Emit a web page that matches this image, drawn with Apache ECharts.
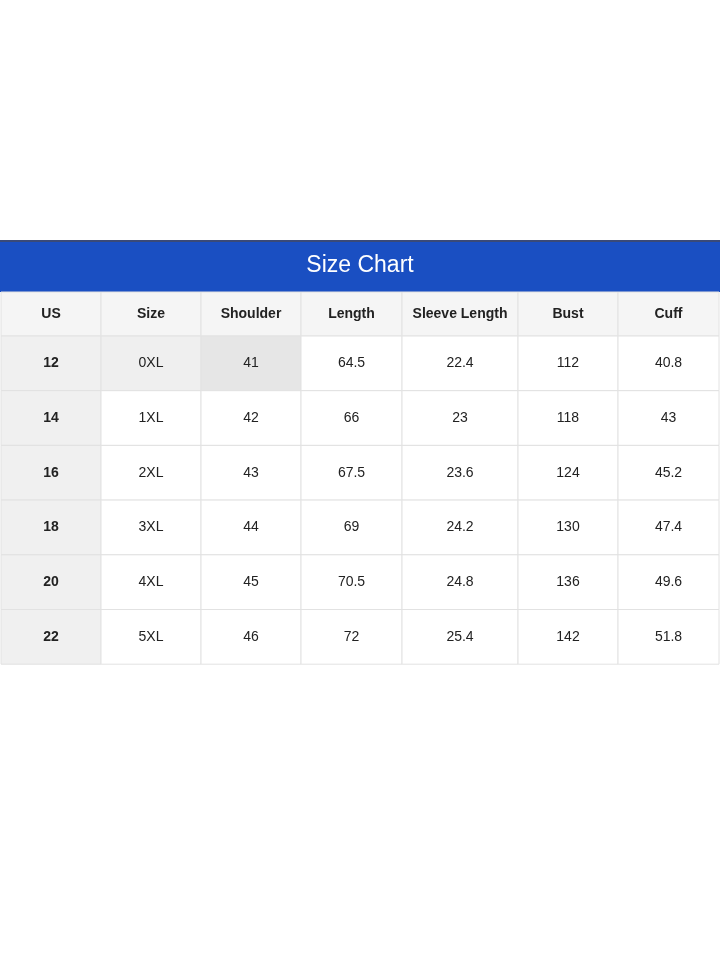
<!DOCTYPE html>
<html><head><meta charset="utf-8">
<script src="https://cdn.jsdelivr.net/npm/echarts@6/dist/echarts.min.js"></script>
<style>html,body{margin:0;background:#fff}#c{width:720px;height:959px}</style>
</head><body><div id="c"></div>
<script>
var title = 'Size Chart';
var headers = ['US', 'Size', 'Shoulder', 'Length', 'Sleeve Length', 'Bust', 'Cuff'];
var us = ['12', '14', '16', '18', '20', '22'];
var sizes = ['0XL', '1XL', '2XL', '3XL', '4XL', '5XL'];
var shoulder = [41, 42, 43, 44, 45, 46];
var length = [64.5, 66, 67.5, 69, 70.5, 72];
var sleeve = [22.4, 23, 23.6, 24.2, 24.8, 25.4];
var bust = [112, 118, 124, 130, 136, 142];
var cuff = [40.8, 43, 45.2, 47.4, 49.6, 51.8];

// layout (pixels in the 720x959 frame)
var colEdges = [1, 101, 201, 301, 402, 518, 618, 719];
var bandTop = 240, headTop = 292, headH = 44, rowH = 54.7;

var columns = [us, sizes, shoulder, length, sleeve, bust, cuff];
var cells = [];
headers.forEach(function (h, c) { cells.push([c, -1, h]); });
for (var r = 0; r < us.length; r++) {
  for (var c = 0; c < columns.length; c++) cells.push([c, r, String(columns[c][r])]);
}

function fillOf(c, r) {
  if (r < 0) return '#f5f5f5';
  if (c === 0) return '#f0f0f0';
  if (r === 0 && c === 1) return '#efefef';
  if (r === 0 && c === 2) return '#e6e6e6';
  return '#ffffff';
}

var chart = echarts.init(document.getElementById('c'));
chart.setOption({
  animation: false,
  grid: { left: 0, right: 0, top: 0, bottom: 0 },
  xAxis: { type: 'value', min: 0, max: 720, show: false },
  yAxis: { type: 'value', min: 0, max: 959, inverse: true, show: false },
  series: [{
    type: 'custom',
    data: [[0]],
    renderItem: function (params, api) {
      var a = api.coord([0, bandTop]), b = api.coord([720, headTop]);
      return { type: 'group', children: [
        { type: 'rect', shape: { x: a[0], y: a[1], width: b[0] - a[0], height: b[1] - a[1] },
          style: { fill: '#1a4fc2' } },
        { type: 'rect', shape: { x: a[0], y: a[1], width: b[0] - a[0], height: 2 },
          style: { fill: '#3a4a78' } },
        { type: 'text', style: { x: (a[0] + b[0]) / 2, y: (a[1] + b[1]) / 2, text: title,
          fill: '#fff', font: '23px "Liberation Sans", Arial', align: 'center', verticalAlign: 'middle' } }
      ] };
    }
  }, {
    type: 'custom',
    data: cells,
    renderItem: function (params, api) {
      var c = api.value(0), r = api.value(1), txt = cells[params.dataIndex][2];
      var y0 = r < 0 ? headTop : headTop + headH + r * rowH;
      var y1 = r < 0 ? headTop + headH : y0 + rowH;
      var p0 = api.coord([colEdges[c], y0]), p1 = api.coord([colEdges[c + 1], y1]);
      var bold = r < 0 || c === 0;
      return { type: 'group', children: [
        { type: 'rect', shape: { x: p0[0], y: p0[1], width: p1[0] - p0[0], height: p1[1] - p0[1] },
          style: { fill: fillOf(c, r), stroke: '#e2e2e2', lineWidth: 1 } },
        { type: 'text', style: { x: (p0[0] + p1[0]) / 2, y: (p0[1] + p1[1]) / 2, text: txt,
          fill: '#222', font: (bold ? 'bold ' : '') + '14px "Liberation Sans", Arial',
          align: 'center', verticalAlign: 'middle' } }
      ] };
    }
  }]
});
</script></body></html>
